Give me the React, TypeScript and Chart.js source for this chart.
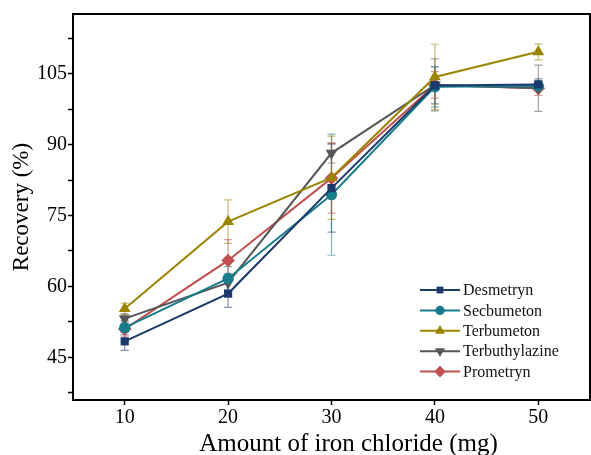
import React, { useEffect, useRef } from "react";
import { Chart, registerables } from "chart.js";
import { drawPoint } from "chart.js/helpers";

Chart.register(...registerables);

const amounts = [10, 20, 30, 40, 50];
const seriesNames = ["Desmetryn", "Secbumeton", "Terbumeton", "Terbuthylazine", "Prometryn"];

const desmetryn = [48.4, 58.5, 80.8, 102.5, 102.7];
const desmetrynErr = [1.9, 2.9, 9.3, 3.9, 1.2];
const secbumeton = [51.3, 61.7, 79.4, 102.2, 102.4];
const secbumetonErr = [1.5, 2.5, 12.8, 4.3, 1.0];
const terbumeton = [55.3, 73.7, 83.0, 104.3, 109.6];
const terbumetonErr = [1.2, 4.6, 8.8, 6.9, 1.7];
const terbuthylazine = [53.2, 60.8, 88.2, 102.6, 101.9];
const terbuthylazineErr = [1.0, 2.0, 2.1, 5.5, 4.9];
const prometryn = [51.0, 65.5, 82.9, 102.6, 101.9];
const prometrynErr = [1.5, 4.4, 7.4, 2.8, 1.5];

const xTicks = [10, 20, 30, 40, 50];
const yTicks = [45, 60, 75, 90, 105];
const yMinorTicks = [37.5, 52.5, 67.5, 82.5, 97.5, 112.5];

const xTitle = "Amount of iron chloride (mg)";
const yTitle = "Recovery (%)";

const colors = ["#1B3A6B", "#177C8C", "#9A8400", "#555555", "#C0504D"];
const errColors = [
  "rgba(27,58,107,0.55)",
  "rgba(23,124,140,0.55)",
  "rgba(154,132,0,0.55)",
  "rgba(85,85,85,0.55)",
  "rgba(192,80,77,0.55)",
];
const pointStyles = ["rect", "circle", "triangle", "triangle", "rectRot"];
const pointRotations = [0, 0, 0, 180, 0];
const pointRadii = [5.8, 5.6, 6.8, 6.8, 6.8];

const values = [desmetryn, secbumeton, terbumeton, terbuthylazine, prometryn];
const errors = [desmetrynErr, secbumetonErr, terbumetonErr, terbuthylazineErr, prometrynErr];

const SERIF = "'Liberation Serif', 'Times New Roman', serif";

const errorBarPlugin = {
  id: "errorBars",
  beforeDatasetsDraw(chart: any) {
    const { ctx, scales } = chart;
    const xs = scales.x;
    const ys = scales.y;
    ctx.save();
    chart.data.datasets.forEach((ds: any, i: number) => {
      const errs = errors[i];
      ctx.strokeStyle = errColors[i];
      ctx.lineWidth = 1.2;
      ds.data.forEach((pt: any, j: number) => {
        const px = xs.getPixelForValue(pt.x);
        const yTop = ys.getPixelForValue(pt.y + errs[j]);
        const yBot = ys.getPixelForValue(pt.y - errs[j]);
        ctx.beginPath();
        ctx.moveTo(px, yTop);
        ctx.lineTo(px, yBot);
        ctx.moveTo(px - 4, yTop);
        ctx.lineTo(px + 4, yTop);
        ctx.moveTo(px - 4, yBot);
        ctx.lineTo(px + 4, yBot);
        ctx.stroke();
      });
    });
    ctx.restore();
  },
};

const framePlugin = {
  id: "frameAndLegend",
  afterDraw(chart: any) {
    const { ctx, chartArea } = chart;
    const { left, right, top, bottom } = chartArea;
    ctx.save();
    ctx.strokeStyle = "#000";
    ctx.lineWidth = 2;
    ctx.beginPath();
    ctx.moveTo(left - 1, top);
    ctx.lineTo(right, top);
    ctx.lineTo(right, bottom);
    ctx.stroke();

    // legend
    const lx = left + 347;
    const ly = top + 276;
    const rowH = 20.4;
    ctx.font = `16px ${SERIF}`;
    ctx.textBaseline = "middle";
    ctx.textAlign = "left";
    seriesNames.forEach((name, i) => {
      const y = ly + i * rowH;
      ctx.strokeStyle = colors[i];
      ctx.lineWidth = 2;
      ctx.beginPath();
      ctx.moveTo(lx, y);
      ctx.lineTo(lx + 40, y);
      ctx.stroke();
      ctx.fillStyle = colors[i];
      drawPoint(
        ctx,
        { pointStyle: pointStyles[i], rotation: pointRotations[i], radius: pointRadii[i] - 1, borderWidth: 0 } as any,
        lx + 20,
        y
      );
      ctx.fillStyle = "#111";
      ctx.fillText(name, lx + 43, y + 1);
    });

    // x-axis title
    ctx.font = `25px ${SERIF}`;
    ctx.textAlign = "center";
    ctx.textBaseline = "alphabetic";
    ctx.fillStyle = "#000";
    ctx.fillText(xTitle, (left + right) / 2 + 17, 451);
    ctx.restore();
  },
};

export default function App() {
  const canvasRef = useRef<HTMLCanvasElement | null>(null);

  useEffect(() => {
    if (!canvasRef.current) return;
    const datasets = values.map((vals, i) => ({
      label: seriesNames[i],
      data: vals.map((v, j) => ({ x: amounts[j], y: v })),
      borderColor: colors[i],
      backgroundColor: colors[i],
      borderWidth: 2,
      pointStyle: pointStyles[i] as any,
      rotation: pointRotations[i],
      pointRadius: pointRadii[i],
      pointBorderWidth: 0,
      pointHoverRadius: pointRadii[i],
      tension: 0,
    }));

    const chart = new Chart(canvasRef.current, {
      type: "line",
      data: { datasets },
      options: {
        responsive: false,
        animation: false,
        layout: { autoPadding: false, padding: { top: 14, right: 1, left: 0, bottom: 0 } },
        plugins: {
          legend: { display: false },
          tooltip: { enabled: false },
        },
        scales: {
          x: {
            type: "linear",
            min: 5,
            max: 55,
            afterBuildTicks: (scale: any) => {
              scale.ticks = xTicks.map((v) => ({ value: v }));
            },
            afterFit: (scale: any) => {
              scale.height = 55;
              scale.paddingLeft = 0;
              scale.paddingRight = 0;
            },
            grid: {
              display: true,
              drawOnChartArea: false,
              drawTicks: true,
              tickLength: 5,
              tickColor: "#000",
              tickWidth: 1.5,
            },
            border: { display: true, color: "#000", width: 2 },
            ticks: {
              color: "#000",
              font: { family: SERIF, size: 20 },
              padding: 1,
              maxRotation: 0,
              callback: (v: any) => String(v),
            },
            title: { display: false },
          },
          y: {
            type: "linear",
            min: 36,
            max: 117.6,
            afterBuildTicks: (scale: any) => {
              scale.ticks = [...yTicks, ...yMinorTicks]
                .sort((a, b) => a - b)
                .map((v) => ({ value: v }));
            },
            afterFit: (scale: any) => {
              scale.width = 73;
              scale.paddingTop = 0;
              scale.paddingBottom = 0;
            },
            grid: {
              display: true,
              drawOnChartArea: false,
              drawTicks: true,
              tickLength: 5,
              tickColor: "#000",
              tickWidth: 1.5,
            },
            border: { display: true, color: "#000", width: 2 },
            ticks: {
              color: "#000",
              font: { family: SERIF, size: 20 },
              padding: 1,
              callback: (v: any) => (yTicks.includes(Number(v)) ? String(v) : ""),
            },
            title: {
              display: true,
              text: yTitle,
              color: "#000",
              font: { family: SERIF, size: 23, lineHeight: 1 },
              padding: { top: 10, bottom: 0 },
            },
          },
        },
      },
      plugins: [errorBarPlugin, framePlugin],
    });
    return () => chart.destroy();
  }, []);

  return (
    <canvas
      ref={canvasRef}
      width={591}
      height={455}
      style={{ position: "absolute", left: 0, top: 0, width: 591, height: 455, display: "block" }}
    />
  );
}
